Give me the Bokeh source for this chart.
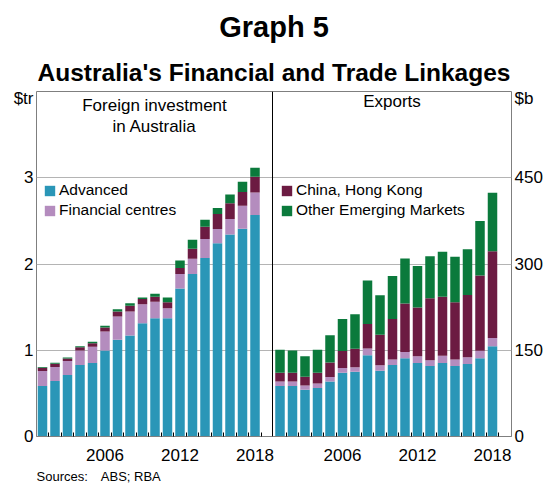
from bokeh.plotting import figure
from bokeh.models import (Range1d, LinearAxis, FixedTicker, Span, Label, Title,
                          Legend, LegendItem, ColumnDataSource)
from bokeh.embed import file_html
from bokeh.resources import INLINE

# ---------------- data ----------------
years = list(range(2001, 2019))
tick_years = [2006, 2012, 2018]

# Foreign investment in Australia ($tr)
fi_advanced = [0.586, 0.644, 0.713, 0.828, 0.851, 0.996, 1.123, 1.172, 1.314,
               1.372, 1.372, 1.716, 1.885, 2.069, 2.241, 2.341, 2.410, 2.567]
fi_fincentres = [0.173, 0.161, 0.161, 0.168, 0.191, 0.222, 0.268, 0.276, 0.219,
                 0.191, 0.115, 0.169, 0.176, 0.222, 0.165, 0.180, 0.264, 0.261]
fi_china_hk = [0.038, 0.038, 0.030, 0.038, 0.038, 0.046, 0.057, 0.069, 0.061,
               0.058, 0.069, 0.069, 0.115, 0.142, 0.173, 0.184, 0.161, 0.183]
fi_other_em = [0.008, 0.011, 0.012, 0.012, 0.020, 0.019, 0.027, 0.027, 0.019,
               0.034, 0.057, 0.088, 0.104, 0.080, 0.069, 0.100, 0.119, 0.104]

# Exports ($b)
ex_advanced = [88, 88, 81.5, 84.5, 95.5, 111, 112.5, 141.5, 114.5,
               124.5, 136, 128, 122.5, 128, 122.5, 126, 136, 157]
ex_fincentres = [7.5, 7.5, 7, 7.5, 8, 8, 8, 11.5, 9.5,
                 9.5, 11, 11.5, 10, 12.5, 11.5, 12, 13, 14.5]
ex_china_hk = [15.5, 15.5, 15.5, 19, 25, 29.5, 32, 42.5, 53,
               70.5, 84.5, 85, 108, 102.5, 99.5, 108, 131, 150.5]
ex_other_em = [40, 38.5, 35.5, 40, 47.5, 56, 60, 76, 68.5,
               74.5, 78, 72, 73, 78.5, 79, 79.5, 95, 102]

left_ticks = [0, 1, 2, 3]
right_ticks = [0, 150, 300, 450]
left_unit, left_unit_pos = "$tr", 3.92
right_unit, right_unit_pos = "$b", 588

# ---------------- styling ----------------
C_ADV = "#2a96b7"
C_FC = "#b48cbe"
C_CH = "#6c1b42"
C_EM = "#0b7a3c"
FONT = "Liberation Sans"

LEFT_OFFSET = 2000    # x = year - 2000  (left panel)
RIGHT_OFFSET = 1981   # x = year - 1981  (right panel)
DIVIDER = 19.4

left_x = [y - LEFT_OFFSET for y in years]
right_x = [y - RIGHT_OFFSET for y in years]

src_l = ColumnDataSource(dict(x=left_x, adv=fi_advanced, fc=fi_fincentres,
                              ch=fi_china_hk, em=fi_other_em))
src_r = ColumnDataSource(dict(x=right_x, adv=ex_advanced, fc=ex_fincentres,
                              ch=ex_china_hk, em=ex_other_em))

p = figure(width=545, height=488, output_backend="svg", toolbar_location=None,
           x_range=Range1d(0.52, 38.52), y_range=Range1d(0, 4),
           min_border_left=36, min_border_right=34, min_border_top=88,
           min_border_bottom=52)
p.extra_y_ranges = {"right": Range1d(0, 600)}
p.background_fill_color = "white"
p.border_fill_color = "white"
p.outline_line_color = "#7f7f7f"
p.outline_line_width = 1

# grid
p.xgrid.visible = False
p.ygrid.ticker = FixedTicker(ticks=[1, 2, 3])
p.ygrid.grid_line_color = "#b4b4b4"

# bars
cols = ["adv", "fc", "ch", "em"]
colors = [C_ADV, C_FC, C_CH, C_EM]
rl = p.vbar_stack(cols, x="x", width=0.76, color=colors, line_color=None, source=src_l)
rr = p.vbar_stack(cols, x="x", width=0.76, color=colors, line_color=None, source=src_r,
                  y_range_name="right")

# divider between panels
p.add_layout(Span(location=DIVIDER, dimension="height", line_color="black", line_width=1))

# x axis
xa = p.xaxis[0]
label_pos = [y - LEFT_OFFSET for y in tick_years] + [y - RIGHT_OFFSET for y in tick_years]
minor_pos = [x + 0.5 for x in left_x] + [x + 0.5 for x in right_x]
xa.ticker = FixedTicker(ticks=label_pos, minor_ticks=minor_pos)
xa.major_label_overrides = {pos: str(y) for pos, y in zip(label_pos, tick_years + tick_years)}
xa.major_tick_in = 0
xa.major_tick_out = 0
xa.minor_tick_in = 4
xa.minor_tick_out = 0
xa.minor_tick_line_color = "black"
xa.axis_line_color = "#7f7f7f"
xa.major_label_standoff = 12
xa.major_label_text_font = FONT
xa.major_label_text_font_size = "17px"
xa.major_label_text_color = "black"

# left y axis (unit label shown at the top as a tick label)
ya = p.yaxis[0]
ya.ticker = FixedTicker(ticks=left_ticks + [left_unit_pos])
ya.major_label_overrides = {left_unit_pos: left_unit}
ya.major_tick_in = 0
ya.major_tick_out = 0
ya.minor_tick_line_color = None
ya.axis_line_color = None
ya.major_label_standoff = 3
ya.major_label_text_font = FONT
ya.major_label_text_font_size = "17px"
ya.major_label_text_color = "black"

# right y axis
yr = LinearAxis(y_range_name="right", ticker=FixedTicker(ticks=right_ticks + [right_unit_pos]))
yr.major_label_overrides = {right_unit_pos: right_unit}
yr.major_tick_in = 0
yr.major_tick_out = 0
yr.minor_tick_line_color = None
yr.axis_line_color = None
yr.major_label_standoff = 3
yr.major_label_text_font = FONT
yr.major_label_text_font_size = "17px"
yr.major_label_text_color = "black"
p.add_layout(yr, "right")

# legends
def make_legend(items, loc):
    return Legend(items=items, location=loc, orientation="vertical",
                  glyph_width=13, glyph_height=13, label_height=13,
                  label_standoff=3, spacing=2, padding=0, margin=0,
                  border_line_alpha=0, background_fill_alpha=0,
                  label_text_font=FONT, label_text_font_size="15.5px",
                  label_text_color="black")

p.add_layout(make_legend([LegendItem(label="Advanced", renderers=[rl[0]]),
                          LegendItem(label="Financial centres", renderers=[rl[1]])],
                         (7, 217)))
p.add_layout(make_legend([LegendItem(label="China, Hong Kong", renderers=[rr[2]]),
                          LegendItem(label="Other Emerging Markets", renderers=[rr[3]])],
                         (244, 217)))

# panel titles (inside frame)
def add_label(text, x, y, size):
    p.add_layout(Label(text=text, x=x, y=y, x_units="data", y_units="screen",
                       text_font=FONT, text_font_size=size, text_align="center",
                       text_baseline="alphabetic", text_color="black"))

left_center = (0.52 + DIVIDER) / 2
right_center = (DIVIDER + 38.52) / 2
add_label("Foreign investment", left_center, 331.5, "17px")
add_label("in Australia", left_center, 310.5, "17px")
add_label("Exports", right_center, 335.5, "17px")

# chart titles (above) and sources (below)
p.add_layout(Title(text="Australia's Financial and Trade Linkages", align="center",
                   offset=0, standoff=11, text_font=FONT, text_font_size="24.5px",
                   text_font_style="bold", text_color="black"), "above")
p.add_layout(Title(text="Graph 5", align="center", offset=0, standoff=17,
                   text_font=FONT, text_font_size="29px", text_font_style="bold",
                   text_color="black"), "above")
p.add_layout(Title(text="Sources:\u2003ABS; RBA", align="left", offset=0, standoff=7,
                   text_font=FONT, text_font_size="13px", text_font_style="normal",
                   text_color="black"), "below")

open("out.html", "w").write(file_html(p, INLINE))
